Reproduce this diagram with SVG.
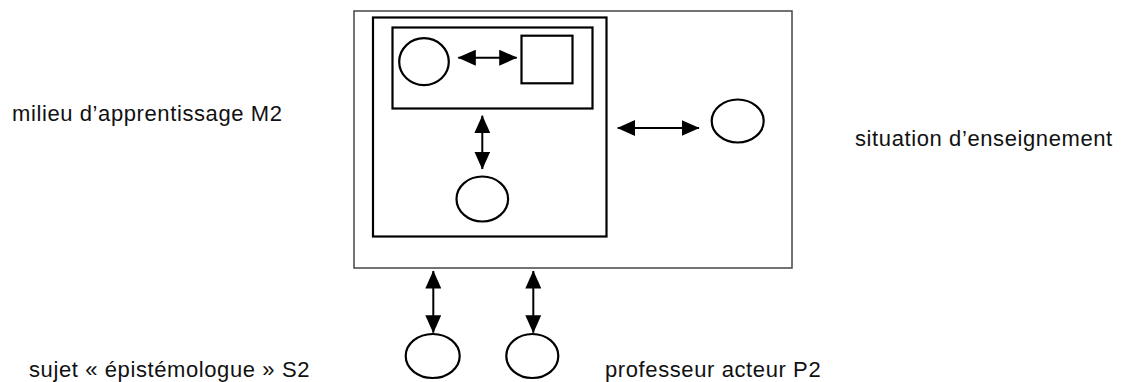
<svg xmlns="http://www.w3.org/2000/svg" width="1122" height="382" viewBox="0 0 1122 382">
<style>
.bg{fill:#fff}
.outer{fill:none;stroke:#444;stroke-width:1.5}
.box{fill:none;stroke:#000;stroke-width:2.2}
.shape{fill:#fff;stroke:#000;stroke-width:2.2}
.conn{stroke:#000;stroke-width:2;fill:none;marker-start:url(#ah);marker-end:url(#ah)}
.lbl{font-family:"Liberation Sans",Arial,sans-serif;font-size:22px;letter-spacing:0.6px;fill:#111}
</style>
<defs>
<marker id="ah" viewBox="0 0 18 16" markerWidth="18" markerHeight="16" refX="17.5" refY="8" orient="auto-start-reverse" markerUnits="userSpaceOnUse">
<path d="M0,0 L18,8 L0,16 z" fill="#000"/>
</marker>
</defs>
<rect class="bg" x="0" y="0" width="1122" height="382"/>
<g id="situation">
<rect class="outer" x="354" y="11" width="438" height="257"/>
</g>
<g id="milieu-box">
<rect class="box" x="373" y="17.5" width="233.5" height="219"/>
</g>
<g id="inner-box">
<rect class="box" x="392.5" y="27.5" width="200" height="81"/>
</g>
<g id="inner-circle">
<ellipse class="shape" cx="424" cy="61.7" rx="24.8" ry="23.5"/>
</g>
<g id="inner-square">
<rect class="shape" x="521.5" y="35.7" width="51" height="47.6"/>
</g>
<g id="milieu-circle">
<ellipse class="shape" cx="482.3" cy="199" rx="25.8" ry="22.5"/>
</g>
<g id="situation-circle">
<ellipse class="shape" cx="737.7" cy="121" rx="26" ry="21.5"/>
</g>
<g id="sujet-circle">
<ellipse class="shape" cx="432.7" cy="356" rx="27" ry="22"/>
</g>
<g id="professeur-circle">
<ellipse class="shape" cx="532.3" cy="356" rx="26" ry="22"/>
</g>
<g id="connectors">
<line class="conn" x1="458.3" y1="57.7" x2="516.7" y2="57.7"/>
<line class="conn" x1="482.3" y1="115.7" x2="482.3" y2="169"/>
<line class="conn" x1="617.7" y1="128" x2="699" y2="128"/>
<line class="conn" x1="433.3" y1="271" x2="433.3" y2="332.7"/>
<line class="conn" x1="533.3" y1="271" x2="533.3" y2="332.7"/>
</g>
<g id="labels">
<text class="lbl" x="12" y="121">milieu d’apprentissage M2</text>
<text class="lbl" x="855" y="146">situation d’enseignement</text>
<text class="lbl" x="29" y="376.5">sujet « épistémologue » S2</text>
<text class="lbl" x="605" y="376.5">professeur acteur P2</text>
</g>
</svg>
